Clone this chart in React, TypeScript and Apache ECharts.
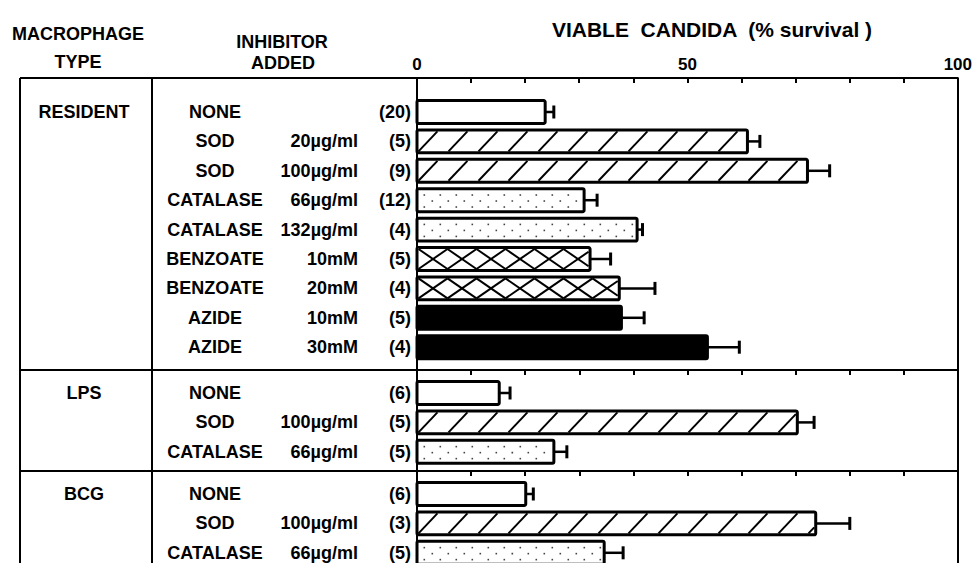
import React, { useEffect, useRef } from 'react';
import * as echarts from 'echarts';

// ---------------- data ----------------
const macrophageTypes = ['RESIDENT', 'LPS', 'BCG'];

const residentInhibitors = ['NONE', 'SOD', 'SOD', 'CATALASE', 'CATALASE', 'BENZOATE', 'BENZOATE', 'AZIDE', 'AZIDE'];
const residentDoses = ['', '20µg/ml', '100µg/ml', '66µg/ml', '132µg/ml', '10mM', '20mM', '10mM', '30mM'];
const residentN = [20, 5, 9, 12, 4, 5, 4, 5, 4];
const residentSurvival = [23.7, 61.1, 72.2, 30.9, 40.7, 32.0, 37.4, 37.8, 53.7];
const residentSE = [1.6, 2.3, 4.1, 2.4, 1.0, 3.8, 6.6, 4.2, 5.9];
const residentFill = ['open', 'hatch', 'hatch', 'dots', 'dots', 'cross', 'cross', 'solid', 'solid'];

const lpsInhibitors = ['NONE', 'SOD', 'CATALASE'];
const lpsDoses = ['', '100µg/ml', '66µg/ml'];
const lpsN = [6, 5, 5];
const lpsSurvival = [15.2, 70.3, 25.3];
const lpsSE = [2.0, 3.1, 2.4];
const lpsFill = ['open', 'hatch', 'dots'];

const bcgInhibitors = ['NONE', 'SOD', 'CATALASE'];
const bcgDoses = ['', '100µg/ml', '66µg/ml'];
const bcgN = [6, 3, 5];
const bcgSurvival = [20.1, 73.7, 34.6];
const bcgSE = [1.4, 6.3, 3.5];
const bcgFill = ['open', 'hatch', 'dots'];

const xLabelValues = [0, 50, 100];
const xMin = 0;
const xMax = 100;
const xTickStep = 10;

// ---------------- layout ----------------
const FONT = '"Liberation Sans", Arial, Helvetica, sans-serif';
const ROW_PX = 29.4;
const BAR_UNITS = 0.78;
const GRID_LEFT = 417;
const GRID_RIGHT_X = 958;
const GRID_TOPS = [78, 370, 471];
const GRID_HEIGHTS = [292, 101, 92];
const FIRST_ROW_OFFSETS = [34, 23, 23];

const sections = [
  { type: macrophageTypes[0], inh: residentInhibitors, dose: residentDoses, n: residentN, val: residentSurvival, se: residentSE, fill: residentFill },
  { type: macrophageTypes[1], inh: lpsInhibitors, dose: lpsDoses, n: lpsN, val: lpsSurvival, se: lpsSE, fill: lpsFill },
  { type: macrophageTypes[2], inh: bcgInhibitors, dose: bcgDoses, n: bcgN, val: bcgSurvival, se: bcgSE, fill: bcgFill },
];

function clipLine(xa: number, ya: number, xb: number, yb: number, L: number, R: number) {
  const dx = xb - xa;
  let t0 = 0, t1 = 1;
  if (dx !== 0) {
    const tl = (L - xa) / dx;
    const tr = (R - xa) / dx;
    t0 = Math.max(0, Math.min(tl, tr));
    t1 = Math.min(1, Math.max(tl, tr));
  }
  if (t1 <= t0) return null;
  return {
    x1: xa + dx * t0, y1: ya + (yb - ya) * t0,
    x2: xa + dx * t1, y2: ya + (yb - ya) * t1,
  };
}

function makeRenderItem(sec: any) {
  return (params: any, api: any) => {
    const i = params.dataIndex;
    const v = api.value(0);
    const e = api.value(1);
    const r = api.value(2);
    const p0 = api.coord([0, r]);
    const p1 = api.coord([v, r]);
    const p2 = api.coord([v + e, r]);
    const h = api.size([0, BAR_UNITS])[1];
    const x0 = p0[0];
    const x1 = p1[0];
    const yc = p0[1];
    const top = yc - h / 2;
    const bot = yc + h / 2;
    const kind = sec.fill[i];
    const children: any[] = [];

    children.push({
      type: 'rect',
      shape: { x: x0, y: top, width: x1 - x0, height: h },
      style: { fill: kind === 'solid' ? '#000' : '#fff', stroke: null },
    });

    const L = x0 + 1.5, R = x1 - 1.5, T = top + 1.5, B = bot - 1.5;
    const H = B - T;
    const lineStyle = { stroke: '#000', lineWidth: 2 };
    if (kind === 'hatch') {
      const s = 30;
      const dx = H * 0.95;
      for (let xb = L; xb < R; xb += s) {
        const seg = clipLine(xb, B, xb + dx, T, L, R);
        if (seg) children.push({ type: 'line', shape: seg, style: lineStyle });
      }
    } else if (kind === 'cross') {
      const s = 29;
      for (let xb = L; xb < R; xb += s) {
        const a = clipLine(xb, B, xb + s, T, L, R);
        if (a) children.push({ type: 'line', shape: a, style: lineStyle });
        const b = clipLine(xb, T, xb + s, B, L, R);
        if (b) children.push({ type: 'line', shape: b, style: lineStyle });
      }
    } else if (kind === 'dots') {
      const rows = [T + 4, T + 10, T + 16];
      rows.forEach((yy, k) => {
        for (let xx = L + 5 + (k % 2) * 8; xx < R - 2; xx += 16) {
          children.push({
            type: 'rect',
            shape: { x: xx, y: yy, width: 1.6, height: 1.6 },
            style: { fill: '#444' },
          });
        }
      });
    }

    children.push({
      type: 'rect',
      shape: { x: x0, y: top, width: x1 - x0, height: h, r: 1.5 },
      style: { fill: null, stroke: '#000', lineWidth: 3 },
    });

    children.push({
      type: 'line',
      shape: { x1: x1, y1: yc, x2: p2[0], y2: yc },
      style: { stroke: '#000', lineWidth: 2.5 },
    });
    children.push({
      type: 'line',
      shape: { x1: p2[0], y1: yc - 6.5, x2: p2[0], y2: yc + 6.5 },
      style: { stroke: '#000', lineWidth: 3 },
    });

    const font = `bold 18px ${FONT}`;
    children.push({
      type: 'text',
      style: { text: sec.inh[i], x: x0 - 202, y: yc, align: 'center', verticalAlign: 'middle', font, fill: '#000' },
    });
    if (sec.dose[i]) {
      children.push({
        type: 'text',
        style: { text: sec.dose[i], x: x0 - 59, y: yc, align: 'right', verticalAlign: 'middle', font, fill: '#000' },
      });
    }
    children.push({
      type: 'text',
      style: { text: `(${sec.n[i]})`, x: x0 - 6, y: yc, align: 'right', verticalAlign: 'middle', font, fill: '#000' },
    });
    if (i === 0) {
      children.push({
        type: 'text',
        style: { text: sec.type, x: x0 - 333, y: yc, align: 'center', verticalAlign: 'middle', font, fill: '#000' },
      });
    }
    return { type: 'group', children };
  };
}

export default function App() {
  const ref = useRef<HTMLDivElement>(null);
  useEffect(() => {
    if (!ref.current) return;
    const chart = echarts.init(ref.current, undefined, { renderer: 'svg' });

    const grids = sections.map((_, k) => ({
      left: GRID_LEFT,
      width: GRID_RIGHT_X - GRID_LEFT,
      top: GRID_TOPS[k],
      height: GRID_HEIGHTS[k],
      show: false,
    }));

    const xAxes = sections.map((_, k) => ({
      gridIndex: k,
      type: 'value',
      min: xMin,
      max: xMax,
      interval: xTickStep,
      position: 'top',
      axisLine: { show: true, onZero: false, lineStyle: { color: '#000', width: 2 } },
      axisTick: { show: true, inside: true, length: 5, lineStyle: { color: '#000', width: 2 } },
      splitLine: { show: false },
      axisLabel: {
        show: k === 0,
        margin: 5,
        color: '#000',
        fontSize: 17,
        fontWeight: 'bold',
        fontFamily: FONT,
        formatter: (val: number) => (xLabelValues.includes(val) ? String(val) : ''),
      },
    }));

    const yAxes = sections.map((_, k) => {
      const min = -FIRST_ROW_OFFSETS[k] / ROW_PX;
      return {
        gridIndex: k,
        type: 'value',
        inverse: true,
        min,
        max: min + GRID_HEIGHTS[k] / ROW_PX,
        axisLine: { show: true, onZero: false, lineStyle: { color: '#000', width: 2 } },
        axisTick: { show: false },
        axisLabel: { show: false },
        splitLine: { show: false },
      };
    });

    const series = sections.map((sec, k) => ({
      type: 'custom',
      xAxisIndex: k,
      yAxisIndex: k,
      clip: false,
      renderItem: makeRenderItem(sec),
      encode: { x: 0, y: 2 },
      data: sec.val.map((v, i) => [v, sec.se[i], i]),
    }));

    const lineStyle = { stroke: '#000', lineWidth: 2 };
    const headerFont = `bold 18px ${FONT}`;
    const graphic: any[] = [
      { type: 'line', shape: { x1: 20, y1: GRID_TOPS[0], x2: GRID_LEFT, y2: GRID_TOPS[0] }, style: lineStyle },
      { type: 'line', shape: { x1: 20, y1: GRID_TOPS[1], x2: GRID_LEFT, y2: GRID_TOPS[1] }, style: lineStyle },
      { type: 'line', shape: { x1: 20, y1: GRID_TOPS[2], x2: GRID_LEFT, y2: GRID_TOPS[2] }, style: lineStyle },
      { type: 'line', shape: { x1: 20, y1: GRID_TOPS[0], x2: 20, y2: 600 }, style: lineStyle },
      { type: 'line', shape: { x1: 152, y1: GRID_TOPS[0], x2: 152, y2: 600 }, style: lineStyle },
      { type: 'line', shape: { x1: GRID_RIGHT_X, y1: GRID_TOPS[0], x2: GRID_RIGHT_X, y2: 600 }, style: lineStyle },
      { type: 'text', style: { text: 'MACROPHAGE', x: 78, y: 34, align: 'center', verticalAlign: 'middle', font: headerFont, fill: '#000' } },
      { type: 'text', style: { text: 'TYPE', x: 78, y: 62, align: 'center', verticalAlign: 'middle', font: headerFont, fill: '#000' } },
      { type: 'text', style: { text: 'INHIBITOR', x: 282, y: 42, align: 'center', verticalAlign: 'middle', font: headerFont, fill: '#000' } },
      { type: 'text', style: { text: 'ADDED', x: 283, y: 63, align: 'center', verticalAlign: 'middle', font: headerFont, fill: '#000' } },
      { type: 'text', style: { text: 'VIABLE  CANDIDA  (% survival )', x: 712, y: 29, align: 'center', verticalAlign: 'middle', font: `bold 21px ${FONT}`, fill: '#000' } },
    ];

    chart.setOption({
      animation: false,
      backgroundColor: '#fff',
      grid: grids,
      xAxis: xAxes,
      yAxis: yAxes,
      series,
      graphic,
    });
    return () => chart.dispose();
  }, []);

  return <div ref={ref} style={{ position: 'absolute', left: 0, top: 0, width: 975, height: 563 }} />;
}
